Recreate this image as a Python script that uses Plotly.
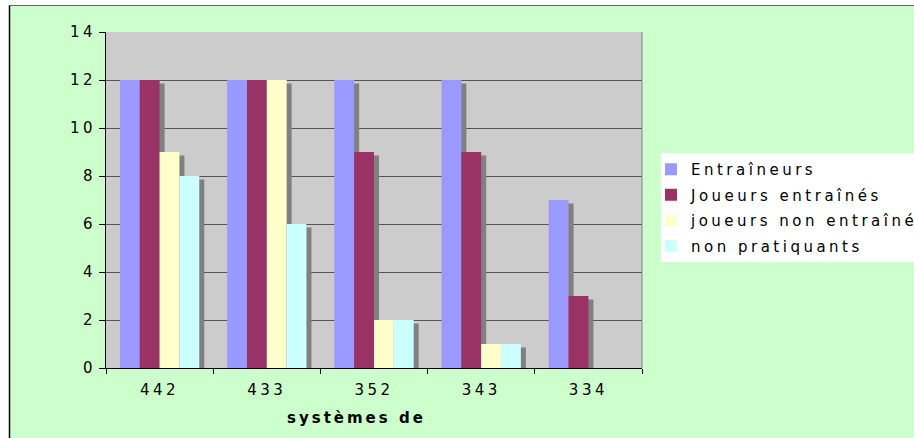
import plotly.graph_objects as go

categories = ["442", "433", "352", "343", "334"]
series_names = ["Entraîneurs", "Joueurs entraînés", "joueurs non entraînés", "non pratiquants"]
entraineurs = [12, 12, 12, 12, 7]
joueurs_entraines = [12, 12, 9, 9, 3]
joueurs_non_entraines = [9, 12, 2, 1, 0]
non_pratiquants = [8, 6, 2, 1, 0]
y_ticks = [0, 2, 4, 6, 8, 10, 12, 14]

series_values = [entraineurs, joueurs_entraines, joueurs_non_entraines, non_pratiquants]
colors = ["#9999FF", "#993366", "#FFFFCC", "#CCFFFF"]

W, H = 914, 438
L, R, T, B = 106, 642, 32, 368  # plot area in px

def px_x(px):
    return (px - L) / (R - L)

def px_y(py):
    return (B - py) / (B - T)

def sp(s, n=3.5):
    return f"<span style='letter-spacing:{n}px'>{s}</span>"

bw = 0.185
dx = 5 / ((R - L) / 5)
dy = 3.5 / ((B - T) / 14)

fig = go.Figure()
# shadows
for i, vals in enumerate(series_values):
    fig.add_trace(go.Bar(
        x=categories, y=[max(v - dy, 0) if v > 0 else 0 for v in vals],
        width=bw, offset=-2 * bw + i * bw + dx,
        marker=dict(color="#808080", line=dict(width=0)),
        showlegend=False, hoverinfo="skip"))
# bars
for i, (name, vals) in enumerate(zip(series_names, series_values)):
    fig.add_trace(go.Bar(
        x=categories, y=vals, name=sp(name), legendgroup=f"g{i}",
        width=bw, offset=-2 * bw + i * bw,
        marker=dict(color=colors[i], line=dict(width=0))))

shapes = [
    dict(type="rect", xref="paper", yref="paper", x0=px_x(-5), x1=px_x(9), y0=px_y(H + 5), y1=px_y(-5),
         fillcolor="white", line=dict(width=0), layer="below"),
    dict(type="rect", xref="paper", yref="paper", x0=px_x(-5), x1=px_x(W + 5), y0=px_y(5), y1=px_y(-5),
         fillcolor="white", line=dict(width=0), layer="below"),
    dict(type="line", xref="paper", yref="paper", x0=px_x(9.5), x1=px_x(W + 5), y0=px_y(5.5), y1=px_y(5.5),
         line=dict(color="#666666", width=1)),
    dict(type="line", xref="paper", yref="paper", x0=px_x(9.5), x1=px_x(9.5), y0=px_y(5.5), y1=px_y(H + 5),
         line=dict(color="#000000", width=1.5)),
    dict(type="line", xref="paper", yref="paper", x0=1, x1=1, y0=0, y1=1,
         line=dict(color="#808080", width=1)),
]

fig.update_layout(
    width=W, height=H,
    margin=dict(l=L, r=W - R, t=T, b=H - B, autoexpand=False),
    paper_bgcolor="#CCFFCC", plot_bgcolor="#CCCCCC",
    barmode="overlay",
    font=dict(family="DejaVu Sans", size=15, color="black"),
    xaxis=dict(type="category", tickmode="array", tickvals=categories,
               ticktext=[sp(c) for c in categories],
               tickson="boundaries", ticks="outside", ticklen=5, tickcolor="black",
               showline=True, linecolor="black", linewidth=1, showgrid=False,
               ticklabelstandoff=8, range=[-0.5, 4.5]),
    yaxis=dict(range=[0, 14], tickvals=y_ticks, ticktext=[sp(str(v)) for v in y_ticks],
               ticks="outside", ticklen=6, tickcolor="black",
               showline=True, linecolor="black", linewidth=1,
               showgrid=True, gridcolor="#555555", gridwidth=1, zeroline=False),
    legend=dict(x=px_x(661), y=px_y(153), xanchor="left", yanchor="top",
                bgcolor="white", borderwidth=0, font=dict(size=15, family="DejaVu Sans"),
                tracegroupgap=3, indentation=-10),
    shapes=shapes,
    annotations=[dict(text="<b>" + sp("systèmes de", 3) + "</b>", xref="paper", yref="paper",
                      x=px_x(285), y=px_y(418), xanchor="left", yanchor="middle",
                      showarrow=False, font=dict(size=15, family="DejaVu Sans"))],
)

fig.write_html("out.html")
